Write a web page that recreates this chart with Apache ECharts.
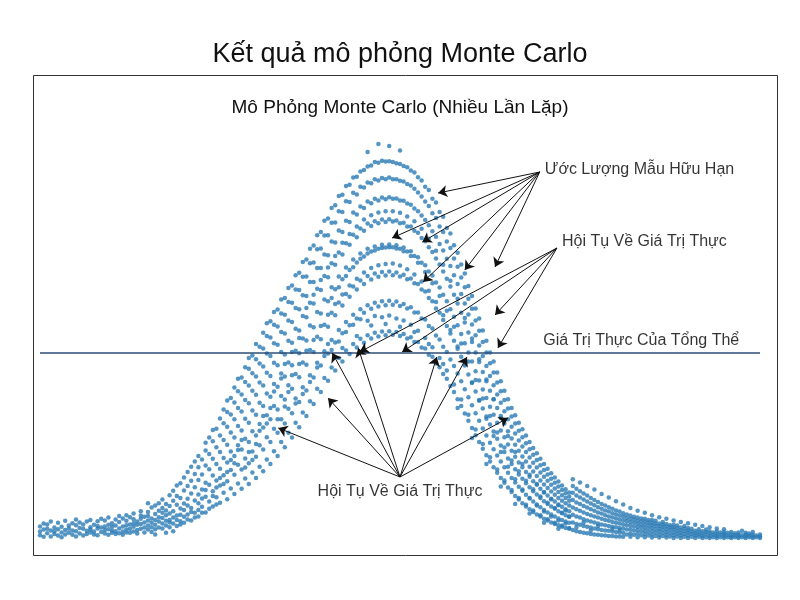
<!DOCTYPE html>
<html><head><meta charset="utf-8">
<script src="https://cdn.jsdelivr.net/npm/echarts@6/dist/echarts.min.js"></script>
<style>html,body{margin:0;background:#fff}#c{width:800px;height:600px}</style></head>
<body><div id="c"></div>
<script>
// columns at x = 0, 0.5, 1, ... 100
const colStep = 0.5;
const colY = [
[1.2,3.4,2.1],[2.6,0.8,4.1],[1.7,3.9,2.8],[0.9,2.4,4.6],[3.1,1.5,2.2],[2.7,4.3,1.1],[1.9,3.3,0.7],[2.5,4.8,1.4],[3.6,1.8,2.9],[1.3,4.2,2.4],
[2.2,3.7,0.9,5.1],[1.6,3.0,4.4],[2.8,1.1,3.9],[4.6,2.3,1.5],[3.2,1.9,5.0,2.6],[1.4,3.8,2.1],[2.9,4.7,1.2,3.5],[2.0,5.3,3.1],[1.6,3.4,4.9,2.5],[3.8,1.3,2.7,5.6],
[2.4,4.2,1.8,3.3],[1.5,5.1,3.6,2.2],[2.9,4.5,1.7,6.0],[3.4,2.1,5.4,1.3],[2.6,4.8,1.9,3.7,6.2],[1.8,3.9,5.7,2.8],[3.3,5.2,2.1,6.6,4.2],[2.5,4.6,1.6,3.8],[4.0,6.1,2.8,5.3,7.2],[3.1,1.9,5.8,4.4],
[2.6,4.9,7.0,3.6,6.0,9.2],[5.4,3.2,8.1,2.0,4.3],[3.8,6.5,2.7,5.0,8.6,1.4],[4.6,7.3,3.1,9.2,5.7],[2.9,5.5,8.0,4.1,6.8,10.1],[3.6,6.2,9.0,4.8,7.4,1.8],[5.0,3.2,8.5,6.6,11.2,4.4],[4.1,7.2,9.8,5.6,12.3,2.2],[3.5,6.1,8.8,11.0,5.0,13.6],[4.7,7.9,10.5,6.3,14.2,3.9],
[5.8,9.1,12.4,4.3,7.5,15.6],[6.4,10.3,13.5,5.1,8.6,17.0],[4.9,8.0,11.6,14.8,7.0,18.3],[6.8,9.9,13.2,16.5,5.6,19.6],[7.5,11.4,15.0,18.2,9.2,21.0,5.9],[8.3,12.6,16.4,20.1,10.4,6.8],[6.9,10.8,14.3,18.6,22.4,12.5,24.3],[9.6,13.8,17.7,21.5,7.8,25.6],[8.4,12.2,16.1,20.3,24.7,11.0,27.5],[10.7,14.9,19.0,23.2,27.8,13.1,8.9],
[9.3,13.6,17.8,22.0,26.1,30.4,15.5],[11.8,16.2,20.5,25.0,29.2,14.0,32.6],[10.2,14.7,19.4,23.8,28.3,32.0,17.0,34.9],[12.9,17.5,22.1,26.9,31.4,35.5,20.0],[11.5,16.3,21.0,25.6,30.2,34.4,38.1,19.2],[14.1,18.8,23.7,28.5,33.0,37.2,22.5,40.3],[12.8,17.6,22.6,27.4,32.1,36.4,40.6,25.0],[15.4,20.4,25.3,30.3,35.0,39.5,43.2,18.1],[14.0,19.2,24.5,29.3,34.2,38.6,42.8,22.0,45.5],[16.9,22.1,27.2,32.4,37.3,41.7,46.1,20.0],
[15.5,20.8,26.1,31.3,36.3,40.9,45.2,49.0,24.0],[18.3,23.7,29.0,34.3,39.4,44.1,48.3,27.3],[17.2,22.6,28.1,33.5,38.6,43.4,47.9,51.8,31.0],[20.1,25.7,31.2,36.6,41.8,46.6,51.0,29.1,54.2],[19.0,24.5,30.2,35.8,41.0,46.0,50.6,54.7,33.0],[22.2,27.8,33.5,39.0,44.3,49.2,53.8,37.1,57.0],[21.0,26.8,32.6,38.3,43.7,48.8,53.4,57.6,30.2],[24.5,30.2,36.0,41.6,47.0,52.0,56.6,40.4,60.1],[23.2,29.1,35.1,40.9,46.4,51.6,56.3,60.5,33.4,44.0],[26.8,32.8,38.7,44.4,49.8,54.9,59.5,63.0,37.0],
[25.6,31.7,37.8,43.7,49.3,54.5,59.3,63.6,41.2,47.0],[29.3,35.4,41.5,47.3,52.8,58.0,62.6,66.2,34.1],[28.2,34.5,40.7,46.7,52.4,57.7,62.5,66.8,44.0,50.5],[31.9,38.2,44.4,50.4,56.0,61.2,65.8,69.5,36.5],[31.0,37.4,43.8,49.9,55.7,61.0,65.9,70.1,47.3,58.0],[34.7,41.2,47.5,53.6,59.3,64.5,69.2,72.8,39.5],[34.0,40.6,47.0,53.2,59.1,64.5,69.4,73.6,50.0,61.3],[37.8,44.3,50.8,57.0,62.8,68.0,72.7,76.2,43.1],[37.0,43.6,50.2,56.6,62.5,68.0,72.9,77.0,53.5,65.0],[40.5,47.2,53.8,60.1,66.0,71.4,76.1,79.8,46.0],
[39.8,46.6,53.3,59.7,65.7,71.2,76.2,80.4,56.3,68.1,49.0],[43.1,50.0,56.8,63.2,69.2,74.6,79.3,83.0,47.5,60.5],[42.4,49.4,56.2,62.7,68.8,74.4,79.4,83.7,59.0,71.0],[45.5,52.5,59.4,65.9,71.9,77.4,82.2,86.0,49.6,63.2],[44.6,51.7,58.6,65.2,71.4,77.0,82.0,86.3,61.4,74.3,48.0],[47.4,54.5,61.5,68.1,74.2,79.8,84.7,88.5,52.0,66.0],[46.5,53.7,60.8,67.5,73.8,79.5,84.5,88.8,63.6,76.5],[49.0,56.3,63.4,70.1,76.3,81.9,86.8,90.6,53.8,68.2],[48.1,55.4,62.6,69.4,75.7,81.4,86.4,90.8,65.3,78.4,51.0],[50.3,57.7,64.9,71.6,77.9,83.4,88.3,92.1,55.2,70.3],
[49.3,56.8,64.0,70.9,77.3,83.0,88.1,92.5,66.9,80.1],[51.2,58.7,66.0,72.8,79.1,84.6,89.4,93.4,54.8,71.6,97.0],[50.4,57.8,65.1,72.1,78.5,84.2,89.2,93.6,68.0,81.2,53.6],[51.8,59.3,66.6,73.4,79.7,85.3,90.2,94.5,56.0,72.4],[50.9,58.4,65.8,72.8,79.2,84.9,89.9,94.3,68.7,81.9,99.0],[52.1,59.7,67.0,73.8,80.1,85.6,90.5,94.8,55.7,73.0],[51.2,58.7,66.1,73.1,79.5,85.2,90.2,94.6,69.0,82.2,54.0],[52.2,59.8,67.1,73.9,80.2,85.7,90.6,94.7,56.1,73.2,98.5],[51.3,58.8,66.2,73.2,79.6,85.3,90.2,94.5,69.1,82.2],[52.0,59.6,66.9,73.7,79.9,85.4,90.2,94.2,55.4,72.9],
[51.0,58.5,65.9,72.8,79.2,84.9,89.8,94.0,68.6,81.8,53.3,97.4],[51.5,59.0,66.3,73.1,79.3,84.8,89.6,93.5,54.9,72.2],[50.4,57.9,65.2,72.1,78.4,84.1,89.0,93.2,67.7,80.9],[50.7,58.2,65.4,72.2,78.4,83.8,88.6,92.4,53.8,71.0],[49.5,56.9,64.2,71.0,77.3,82.9,87.8,91.9,66.4,79.7,52.0],[49.5,56.9,64.0,70.7,76.8,82.2,86.9,90.7,52.3,69.3],[48.1,55.4,62.6,69.3,75.5,81.1,85.9,89.9,64.6,77.8],[47.9,55.1,62.1,68.7,74.7,80.0,84.6,88.3,50.5,67.0],[46.3,53.5,60.5,67.1,73.2,78.7,83.5,87.5,62.3,75.3,49.0],[45.8,52.9,59.7,66.1,72.0,77.2,81.7,85.3,48.2,64.2],
[44.1,51.1,57.9,64.4,70.4,75.8,80.5,84.4,59.5,72.3],[43.2,50.1,56.8,63.1,68.9,74.0,78.4,82.0,45.5,61.0],[41.5,48.3,55.0,61.3,67.1,72.4,77.0,80.8,56.2,68.8,44.0],[40.3,47.0,53.5,59.7,65.3,70.3,74.6,78.0,42.4,57.3],[38.5,45.1,51.6,57.7,63.4,68.5,73.0,76.6,52.5,64.8],[37.0,43.5,49.8,55.8,61.3,66.2,70.4,73.7,38.9,53.3],[35.2,41.6,47.8,53.7,59.1,64.0,68.3,71.8,48.4,60.3,33.0],[33.5,39.7,45.8,51.5,56.8,61.5,65.6,68.9,35.1,49.1],[31.6,37.7,43.6,49.2,54.4,59.1,63.2,66.6,44.0,55.5],[29.8,35.7,41.4,46.9,51.9,56.4,60.3,63.5,31.3,44.6],
[28.0,33.7,39.3,44.6,49.5,53.9,57.8,61.0,39.4,50.4,25.5],[26.2,31.7,37.1,42.2,46.9,51.2,54.9,57.9,27.6,40.0],[24.5,29.8,35.0,39.9,44.5,48.6,52.3,55.4,34.8,45.2],[22.8,27.9,32.9,37.6,42.0,46.0,49.5,52.4,24.0,35.4],[21.2,26.1,30.9,35.5,39.7,43.5,46.9,49.8,30.3,40.1,19.0],[19.6,24.3,28.9,33.3,37.3,41.0,44.2,46.9,20.7,31.0],[18.2,22.7,27.1,31.3,35.2,38.7,41.9,44.6,26.0,35.2],[16.8,21.1,25.3,29.3,33.0,36.4,39.4,41.9,17.6,26.9],[15.5,19.6,23.6,27.4,31.0,34.3,37.2,39.7,22.0,30.5,13.4],[14.3,18.2,22.0,25.7,29.1,32.2,35.0,37.3,14.9,23.1],
[13.1,16.8,20.4,23.9,27.2,30.2,32.9,35.2,18.3,26.0],[12.0,15.5,19.0,22.3,25.4,28.3,30.9,33.0,12.5,19.9],[11.0,14.4,17.7,20.8,23.8,26.6,29.1,31.2,15.2,22.0,9.0],[10.1,13.3,16.4,19.4,22.3,24.9,27.3,29.3,10.5,17.2],[9.2,12.3,15.3,18.2,20.9,23.4,25.7,27.7,12.6,19.0],[8.4,11.3,14.2,17.0,19.6,22.0,24.2,26.1,8.8,14.8],[7.7,10.5,13.2,15.8,18.3,20.6,22.7,24.5,10.4,16.3,6.6],[7.0,9.6,12.2,14.7,17.1,19.3,21.3,23.0,7.4,12.7],[6.4,8.9,11.4,13.8,16.0,18.1,20.0,21.7,8.6,14.0],[5.9,8.2,10.5,12.8,14.9,16.9,18.7,20.3,6.2,10.9],
[5.3,7.5,9.7,11.9,13.9,15.8,17.5,19.0,7.1,12.0,4.3],[4.9,6.9,9.0,11.1,13.0,14.8,16.4,17.8,5.2,9.3],[4.4,6.4,8.4,10.3,12.1,13.8,15.3,16.7,5.9,10.2],[4.0,5.9,7.8,9.6,11.3,12.9,14.3,15.6,4.3,8.0],[3.7,5.4,7.2,8.9,10.5,12.0,13.4,14.6,4.9,8.7,2.8],[3.3,5.0,6.7,8.3,9.8,11.2,12.5,13.6,3.6,6.8],[3.0,4.6,6.2,7.7,9.2,10.5,11.7,12.7,4.1,7.4],[2.8,4.3,5.8,7.2,8.6,9.8,10.9,11.9,3.0,5.9],
[2.5,4.4,6.3,8.1,10.0,11.8,13.5,15.2],[2.2,4.0,5.9,7.7,9.4,11.1,12.8,3.1],[2.0,3.8,5.6,7.3,9.0,10.6,12.2,14.4],[1.8,3.5,5.2,6.9,8.5,10.1,11.6,4.4],[1.7,3.3,4.9,6.5,8.1,9.6,11.1,13.5],[1.5,3.1,4.6,6.2,7.7,9.1,10.5,2.4],[1.4,2.9,4.4,5.9,7.3,8.7,10.0,12.6],[1.3,2.7,4.1,5.6,6.9,8.2,9.5,3.5],[1.2,2.5,3.9,5.3,6.6,7.8,9.0,11.5],[1.1,2.4,3.7,5.0,6.2,7.4,8.6],
[1.0,2.3,3.5,4.8,5.9,7.1,8.2,10.6],[1.0,2.1,3.3,4.5,5.6,6.7,7.8,2.8],[0.9,2.0,3.2,4.3,5.4,6.4,7.4,9.7],[0.9,1.9,3.0,4.1,5.1,6.1,7.1,2.5],[0.8,1.8,2.9,3.9,4.9,5.8,6.7,8.9],[1.4,2.6,3.7,4.7,5.5,6.4],[0.8,1.7,2.7,3.6,4.5,5.3,6.1,8.0],[1.3,2.4,3.4,4.3,5.1,5.8],[0.7,1.6,2.5,3.3,4.1,4.9,5.6,7.3],[1.2,2.2,3.1,3.9,4.7,5.4],
[0.7,1.5,2.3,3.1,3.9,4.6,5.3,6.8],[1.1,2.0,2.9,3.7,4.4,5.0],[0.6,1.4,2.2,3.0,3.7,4.3,5.0,6.2],[1.0,1.9,2.7,3.5,4.1,4.8],[0.6,1.3,2.1,2.8,3.5,4.1,5.7],[1.0,1.8,2.6,3.3,3.9,4.5],[0.6,1.3,2.0,2.7,3.4,4.0,5.3],[0.9,1.7,2.5,3.1,3.7],[0.5,1.2,1.9,2.6,3.2,3.8,4.9],[0.9,1.6,2.3,3.0,3.6],
[0.5,1.2,1.8,2.5,3.1,4.5],[0.8,1.5,2.2,2.9,3.5],[0.5,1.1,1.8,2.4,3.0,4.2],[0.8,1.5,2.1,2.8],[0.5,1.1,1.7,2.3,3.8],[0.8,1.4,2.0,2.7],[0.5,1.0,1.6,2.2,3.5],[0.7,1.4,2.0,2.6],[0.5,1.0,1.6,2.2,3.2],[0.7,1.3,1.9],
[0.5,1.0,1.5,2.1,2.9],[0.7,1.3,1.9],[0.5,1.0,1.5,2.0,2.7],[0.7,1.2,1.8],[0.5,0.9,1.4,2.0],[0.7,1.2,1.7],[0.5,0.9,1.4,1.9],[0.7,1.2,2.3],[0.5,0.9,1.4,1.8],[0.7,1.1,1.6],
[0.5,0.9,1.3,2.0],[0.7,1.1],[0.5,0.9,1.4]
];
const trueValue = 46.75;
const labels = [
 {name:'Ước Lượng Mẫu Hữu Hạn', at:[70.1,92.5], align:'left'},
 {name:'Hội Tụ Về Giá Trị Thực', at:[72.5,74.5], align:'left'},
 {name:'Giá Trị Thực Của Tổng Thể', at:[69.9,49.75], align:'left'},
 {name:'Hội Tụ Về Giá Trị Thực', at:[50,12], align:'center'}
];
const arrowGroups = [
 {from:[69.4,92], to:[[55.3,86.75],[48.9,75.5],[53.1,74.5],[53.2,64.5],[59,67.5],[63.2,68.25]]},
 {from:[71.8,73], to:[[44.4,47],[50.3,47],[63.2,56.25],[63.6,48]]},
 {from:[50,15.75], to:[[33.1,28],[40,35.5],[40.6,46.75],[44.2,48],[55.1,45.75],[59.3,45.75],[65,30.5]]}
];
const pts=[];colY.forEach((ys,i)=>ys.forEach(y=>pts.push([i*colStep,y])));
const arrows=[];arrowGroups.forEach(g=>g.to.forEach(t=>arrows.push([{coord:g.from},{coord:t}])));
const F='Liberation Sans, Arial, sans-serif';
const chart=echarts.init(document.getElementById('c'));
chart.setOption({
 animation:false,
 title:[{text:'Kết quả mô phỏng Monte Carlo',left:'center',top:36,textStyle:{fontFamily:F,fontSize:27,fontWeight:'normal',color:'#111'}},
        {text:'Mô Phỏng Monte Carlo (Nhiều Lần Lặp)',left:'center',top:93,textStyle:{fontFamily:F,fontSize:19,fontWeight:'normal',color:'#111'}}],
 graphic:[{type:'rect',shape:{x:33.5,y:75.5,width:744,height:480},style:{fill:'none',stroke:'#333',lineWidth:1}}],
 grid:{left:40,width:720,top:140,height:400},
 xAxis:{type:'value',min:0,max:100,show:false},
 yAxis:{type:'value',min:0,max:100,show:false},
 series:[
  {type:'scatter',data:pts,symbolSize:4.5,itemStyle:{color:'#2b7bb4'},
   markLine:{silent:true,symbol:'none',label:{show:false},lineStyle:{color:'#2d4e78',width:1.5,type:'solid'},data:[{yAxis:trueValue}]}},
  {type:'scatter',data:[],markLine:{silent:true,symbol:['none','arrow'],symbolSize:9,label:{show:false},lineStyle:{color:'#111',width:1,type:'solid'},data:arrows}},
  {type:'scatter',symbolSize:0,data:labels.map(l=>({name:l.name,value:l.at,label:{show:true,position:'inside',align:l.align,formatter:'{b}',fontFamily:F,fontSize:16,color:'#000'}}))}
 ]
});
</script></body></html>
